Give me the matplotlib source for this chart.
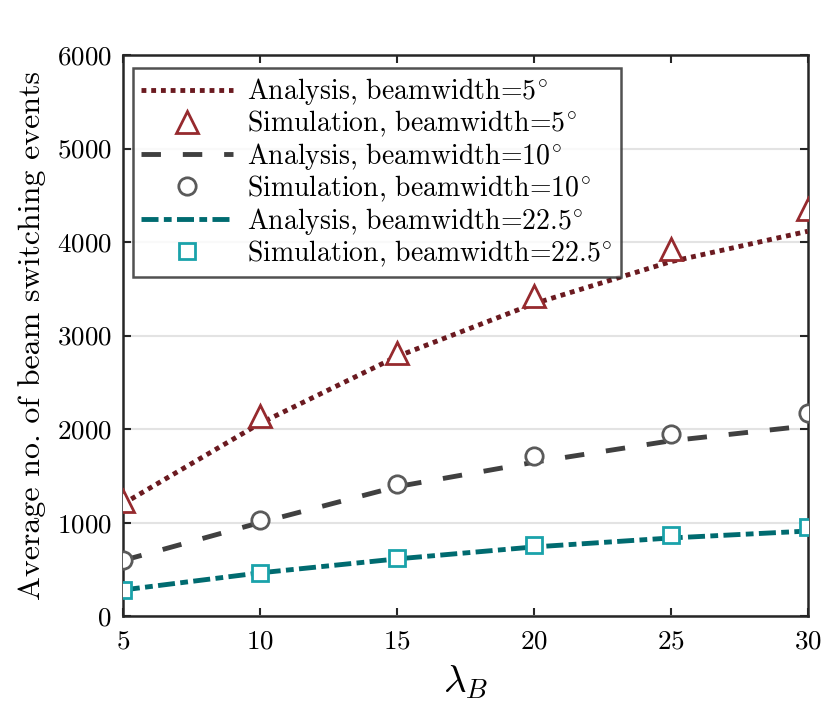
import matplotlib
matplotlib.use("Agg")
import matplotlib.pyplot as plt
import numpy as np

plt.rcParams["font.family"] = ["cmr10", "DejaVu Serif"]
plt.rcParams["mathtext.fontset"] = "cm"
plt.rcParams["axes.formatter.use_mathtext"] = True

# data
lambdaB      = [5, 10, 15, 20, 25, 30]
ana_bw5      = [1200, 2060, 2775, 3340, 3790, 4115]
sim_bw5      = [1230, 2135, 2815, 3418, 3925, 4357]
ana_bw10     = [595, 1000, 1384, 1645, 1875, 2035]
sim_bw10     = [605, 1032, 1413, 1708, 1950, 2171]
ana_bw22     = [280, 463, 612, 740, 836, 910]
sim_bw22     = [284, 463, 623, 765, 872, 954]
xticks       = [5, 10, 15, 20, 25, 30]
yticks       = [0, 1000, 2000, 3000, 4000, 5000, 6000]

fig = plt.figure(figsize=(8.3, 7.05), dpi=100)
ax  = fig.add_axes([0.148, 0.126, 0.825, 0.796])

ax.plot(lambdaB, ana_bw5, color="#6b1a20", lw=3.5, dashes=(1.0, 1.0),
        dash_capstyle="butt", label=r"Analysis, beamwidth=$5^{\!\circ}$", zorder=3)
ax.plot(lambdaB, sim_bw5, ls="none", marker="^", ms=16, mfc="white",
        mec="#962a2e", mew=2.0, label=r"Simulation, beamwidth=$5^{\!\circ}$", zorder=4)
ax.plot(lambdaB, ana_bw10, color="#404040", lw=3.5, dashes=(4.0, 4.5),
        label=r"Analysis, beamwidth=$10^{\!\circ}$", zorder=3)
ax.plot(lambdaB, sim_bw10, ls="none", marker="o", ms=12.5, mfc="white",
        mec="#5a5a5a", mew=2.0, label=r"Simulation, beamwidth=$10^{\!\circ}$", zorder=4)
ax.plot(lambdaB, ana_bw22, color="#006b70", lw=3.5, dashes=(3.5, 1.1, 1.6, 1.1),
        label=r"Analysis, beamwidth=$22.5^{\!\circ}$", zorder=3)
ax.plot(lambdaB, sim_bw22, ls="none", marker="s", ms=11, mfc="white",
        mec="#1aa2aa", mew=2.0, label=r"Simulation, beamwidth=$22.5^{\!\circ}$", zorder=4)

ax.set_xlim(5, 30)
ax.set_ylim(0, 6000)
ax.set_xticks(xticks)
ax.set_yticks(yticks)
ax.yaxis.grid(True, color="#e3e3e3", lw=1.5, zorder=0)
ax.set_axisbelow(True)
ax.tick_params(direction="in", length=6, width=1.5, top=True, right=True,
               labelsize=19.5, color="#262626")
ax.tick_params(axis="x", pad=10)
ax.tick_params(axis="y", pad=8)
for s in ax.spines.values():
    s.set_linewidth(1.8)
    s.set_color("#262626")

ax.set_xlabel(r"$\lambda_B$", fontsize=28, labelpad=7)
ax.set_ylabel("Average no. of beam switching events", fontsize=23, labelpad=8)

leg = ax.legend(loc="upper left", bbox_to_anchor=(0.0146, 0.977), fontsize=20,
                frameon=True, fancybox=False, edgecolor="#262626",
                handlelength=3.3, labelspacing=0.06, borderpad=0.3,
                handletextpad=0.5, borderaxespad=0)
leg.get_frame().set_linewidth(1.8)

fig.savefig("out.png", dpi=100)
